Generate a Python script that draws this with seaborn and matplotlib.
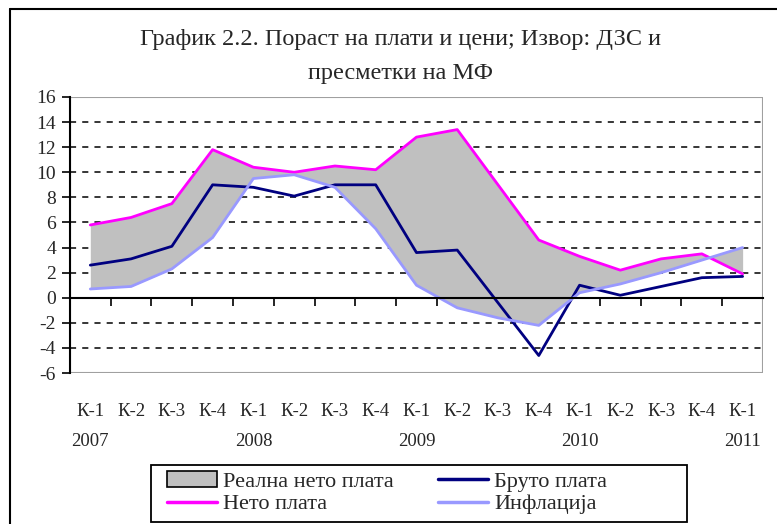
import numpy as np
import pandas as pd
import matplotlib
matplotlib.use("Agg")
import matplotlib.pyplot as plt
import seaborn as sns
from matplotlib.patches import Rectangle, Patch
from matplotlib.lines import Line2D
from matplotlib.transforms import blended_transform_factory

sns.set_style("white")
plt.rcParams["font.family"] = ["Liberation Serif", "DejaVu Serif"]
plt.rcParams["axes.unicode_minus"] = False

# Data (quarterly, 2007 K-1 .. 2011 K-1)
quarters = ["К-1", "К-2", "К-3", "К-4"] * 4 + ["К-1"]
years = {0: "2007", 4: "2008", 8: "2009", 12: "2010", 16: "2011"}
neto = [5.8, 6.4, 7.5, 11.8, 10.4, 10.0, 10.5, 10.2, 12.8, 13.4, 9.0, 4.6,
        3.3, 2.2, 3.1, 3.5, 1.9]
bruto = [2.6, 3.1, 4.1, 9.0, 8.8, 8.1, 9.0, 9.0, 3.6, 3.8, -0.4, -4.6,
         1.0, 0.2, 0.9, 1.6, 1.7]
inflacija = [0.7, 0.9, 2.3, 4.8, 9.5, 9.8, 8.8, 5.5, 1.0, -0.8, -1.6, -2.2,
             0.4, 1.1, 2.0, 3.0, 4.0]

df = pd.DataFrame({"idx": np.arange(len(neto)), "neto": neto,
                   "bruto": bruto, "infl": inflacija})

c_neto = "#ff00ff"
c_bruto = "#000080"
c_infl = "#9999ff"
c_fill = "#c0c0c0"

fig = plt.figure(figsize=(7.77, 5.24), dpi=100)
ax = fig.add_axes([0.090, 0.288, 0.892, 0.527])

ax.fill_between(df["idx"], df["neto"], df["infl"], color=c_fill, lw=0)
sns.lineplot(data=df, x="idx", y="neto", color=c_neto, lw=2, ax=ax)
sns.lineplot(data=df, x="idx", y="bruto", color=c_bruto, lw=2, ax=ax)
sns.lineplot(data=df, x="idx", y="infl", color=c_infl, lw=2, ax=ax)

ax.set_xlim(-0.5, len(neto) - 0.5)
ax.set_ylim(-6, 16)
ax.set_xlabel("")
ax.set_ylabel("")

# dashed grid
for yv in [-4, -2, 2, 4, 6, 8, 10, 12, 14]:
    ax.axhline(yv, color="black", lw=1.1, ls=(0, (4, 4)), zorder=0.5)

# spines: left black, zero line black with category ticks, rest grey frame
for s in ["top", "right"]:
    ax.spines[s].set_visible(False)
ax.spines["left"].set_color("black")
ax.spines["left"].set_linewidth(1.5)
ax.spines["bottom"].set_position(("data", 0))
ax.spines["bottom"].set_color("black")
ax.spines["bottom"].set_linewidth(1.5)
ax.add_patch(Rectangle((0, 0), 1, 1, transform=ax.transAxes, fill=False,
                       ec="#a0a0a0", lw=1.5, zorder=0.4))

ax.set_yticks(np.arange(-6, 17, 2))
ax.tick_params(axis="y", direction="out", length=6, width=1.2, color="black",
               labelsize=14, pad=4, left=True)
ax.set_xticks(np.arange(0.5, len(neto) - 0.5, 1))
ax.set_xticklabels([])
ax.tick_params(axis="x", direction="out", length=6, width=1.2, color="black",
               bottom=True)

trans = blended_transform_factory(ax.transData, fig.transFigure)
for i, q in enumerate(quarters):
    ax.text(i, 1 - 412 / 524, q, transform=trans, ha="center", va="center",
            fontsize=13.5)
for i, y in years.items():
    ax.text(i, 1 - 441 / 524, y, transform=trans, ha="center", va="center",
            fontsize=13.5)

fig.text(400 / 777, 1 - 40 / 524,
         "График 2.2. Пораст на плати и цени; Извор: ДЗС и",
         ha="center", va="center", fontsize=17.5)
fig.text(400 / 777, 1 - 73 / 524, "пресметки на МФ", ha="center",
         va="center", fontsize=17.5)

# outer frame (top and left edges visible)
fig.add_artist(Line2D([10 / 777, 1.0], [1 - 9 / 524, 1 - 9 / 524],
                      transform=fig.transFigure, color="black", lw=1.5))
fig.add_artist(Line2D([10 / 777, 10 / 777], [0, 1 - 9 / 524],
                      transform=fig.transFigure, color="black", lw=1.5))

# legend box (drawn separately, Excel-style with wide right margin)
fig.add_artist(Rectangle((151 / 777, 1 - 522 / 524), 536 / 777, 57 / 524,
                         transform=fig.transFigure, fill=False,
                         ec="black", lw=1.3))

handles = [Patch(fc=c_fill, ec="black", lw=1.2),
           Line2D([], [], color=c_neto, lw=2.5),
           Line2D([], [], color=c_bruto, lw=2.5),
           Line2D([], [], color=c_infl, lw=2.5)]
labels = ["Реална нето плата", "Нето плата", "Бруто плата", "Инфлација"]
fig.legend(handles, labels, ncol=2, loc="upper left",
           bbox_to_anchor=(167 / 777, 1 - 471 / 524), fontsize=16,
           frameon=False, borderpad=0, borderaxespad=0,
           handlelength=2.25, handletextpad=0.27, columnspacing=2.0,
           labelspacing=0.1)

fig.savefig("out.png", dpi=100)
